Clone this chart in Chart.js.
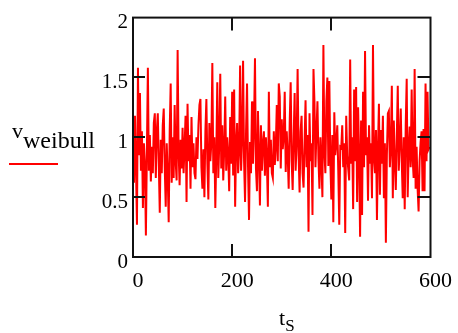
<!DOCTYPE html>
<html>
<head>
<meta charset="utf-8">
<script src="https://cdn.jsdelivr.net/npm/chart.js@4.4.1/dist/chart.umd.min.js"></script>
<style>
  body{margin:0;background:#fff;}
  #wrap{position:relative;width:458px;height:333px;}
  .lbl{position:absolute;font-family:'Liberation Serif',serif;color:#000;white-space:nowrap;}
</style>
</head>
<body>
<div id="wrap">
  <canvas id="myChart" width="458" height="333"></canvas>
  <div class="lbl" style="left:12px;top:117px;font-size:22px;">v<span style="position:relative;top:10px;font-size:24px;">weibull</span></div>
  <div style="position:absolute;left:9px;top:163px;width:49px;height:2px;background:#ff0000;"></div>
  <div class="lbl" style="left:279px;top:305px;font-size:22px;">t<span style="position:relative;top:6px;font-size:17px;">S</span></div>
</div>
<script>
// sample values, one per pixel column (every 2nd sample)
var vWeibull=[
0.95,0.62,1.18,0.75,0.27,1.58,0.85,1.37,0.72,1.05,
0.41,0.95,0.78,0.18,0.88,1.58,0.72,1.02,0.63,0.92,
0.70,1.12,1.20,0.66,1.05,1.20,0.78,0.37,0.98,0.70,
1.10,1.24,0.75,0.42,0.95,0.68,0.29,1.05,1.45,0.62,
1.00,0.66,1.27,0.80,0.64,1.73,0.88,0.60,0.98,0.74,
1.08,0.70,0.92,1.18,0.46,1.28,0.80,1.02,0.57,1.17,
0.75,0.95,0.70,0.65,1.00,0.82,1.10,1.27,1.32,0.75,
0.57,0.90,0.50,1.05,1.32,0.78,0.48,1.12,0.80,0.95,
1.62,0.70,1.00,0.41,0.85,1.46,0.66,0.95,1.53,0.74,
1.10,0.64,0.90,1.34,0.72,1.00,0.85,0.55,1.17,0.78,
1.38,0.68,1.40,0.42,0.95,1.12,0.70,0.88,1.60,0.72,
0.98,1.64,0.80,0.46,1.05,1.45,0.75,0.31,0.96,0.70,
1.30,0.78,1.08,1.66,0.74,0.55,1.22,0.85,0.43,1.10,
0.72,0.95,1.05,0.68,1.00,0.80,0.42,1.38,0.75,0.98,
0.70,0.66,1.05,0.77,0.92,1.27,0.80,1.45,1.34,0.74,
1.15,0.90,1.00,1.38,0.71,1.05,0.85,0.57,1.12,1.46,
0.80,0.56,1.00,1.37,0.72,0.95,1.57,0.85,0.54,1.05,
1.18,0.70,0.58,0.95,1.31,0.75,1.02,0.21,1.20,0.80,
0.95,0.35,1.57,1.29,0.75,1.05,1.30,0.82,0.57,1.00,
0.78,0.50,1.77,0.88,0.70,1.30,1.50,0.76,1.47,0.80,
0.48,1.02,0.29,1.21,0.85,0.95,1.10,0.72,0.27,0.92,
0.91,1.10,0.75,0.95,0.20,1.18,0.85,0.74,0.64,1.65,
0.78,1.00,0.40,1.40,0.80,1.42,0.46,1.25,0.85,0.17,
1.14,0.35,1.38,0.75,1.72,0.85,1.00,0.47,1.10,0.78,
0.95,0.49,1.77,0.82,0.70,1.06,0.31,0.90,1.28,0.52,
1.06,0.78,1.18,0.49,0.95,0.12,0.85,1.20,1.22,0.75,
0.92,1.43,0.49,1.14,0.80,0.56,1.00,1.43,0.72,0.95,
1.24,0.80,0.49,1.00,0.40,1.10,1.49,0.50,0.90,1.09,
0.75,1.40,0.82,0.66,1.57,0.57,0.92,0.57,0.38,0.80,
0.96,1.05,0.55,1.07,0.55,1.45,0.80,1.38,0.90,0.92
]
var tStep=2
var xTicks=[0,200,400,600]
var yTicks=[0,0.5,1,1.5,2]

var points=vWeibull.map(function(v,i){return {x:i*tStep,y:v}})

//box + inside tick marks like Mathcad
var frame={
    id:'frame',
    afterDraw:function(chart){
        var c=chart.ctx, a=chart.chartArea
        var xs=chart.scales.x, ys=chart.scales.y
        c.save()
        c.strokeStyle='#111'
        c.lineWidth=2
        c.strokeRect(a.left,a.top,a.right-a.left,a.bottom-a.top)
        c.beginPath()
        yTicks.slice(1,-1).forEach(function(v){
            var y=Math.round(ys.getPixelForValue(v))
            c.moveTo(a.left,y);c.lineTo(a.left+12,y)
            c.moveTo(a.right-13,y);c.lineTo(a.right,y)
        })
        xTicks.slice(1,-1).forEach(function(v){
            var x=Math.round(xs.getPixelForValue(v))
            c.moveTo(x,a.top);c.lineTo(x,a.top+13)
            c.moveTo(x,a.bottom-13);c.lineTo(x,a.bottom)
        })
        c.stroke()
        c.restore()
    }
}

var ctx=document.getElementById('myChart')
new Chart(ctx,{
    type:'line',
    data:{
        datasets:[{
            label:'v weibull',
            data:points,
            borderColor:'#ff0000',
            borderWidth:2,
            pointRadius:0,
            tension:0,
            fill:false
        }]
    },
    options:{
        responsive:false,
        animation:false,
        layout:{padding:{left:0,top:17,right:26,bottom:0}},
        plugins:{legend:{display:false},tooltip:{enabled:false}},
        scales:{
            x:{
                type:'linear',
                min:0,max:600,
                afterBuildTicks:function(s){s.ticks=xTicks.map(function(v){return {value:v}})},
                afterFit:function(s){s.height=76},
                grid:{display:false,drawTicks:false},
                border:{display:false},
                ticks:{color:'#000',font:{family:'Liberation Serif',size:22},padding:11,labelOffset:5,maxRotation:0,
                    callback:function(v){return String(v)}}
            },
            y:{
                min:0,max:2,
                afterBuildTicks:function(s){s.ticks=yTicks.map(function(v){return {value:v}})},
                afterFit:function(s){s.width=133},
                grid:{display:false,drawTicks:false},
                border:{display:false},
                ticks:{color:'#000',font:{family:'Liberation Serif',size:21},padding:5,labelOffset:5,
                    callback:function(v){return String(v)}}
            }
        }
    },
    plugins:[frame]
})
</script>
</body>
</html>
